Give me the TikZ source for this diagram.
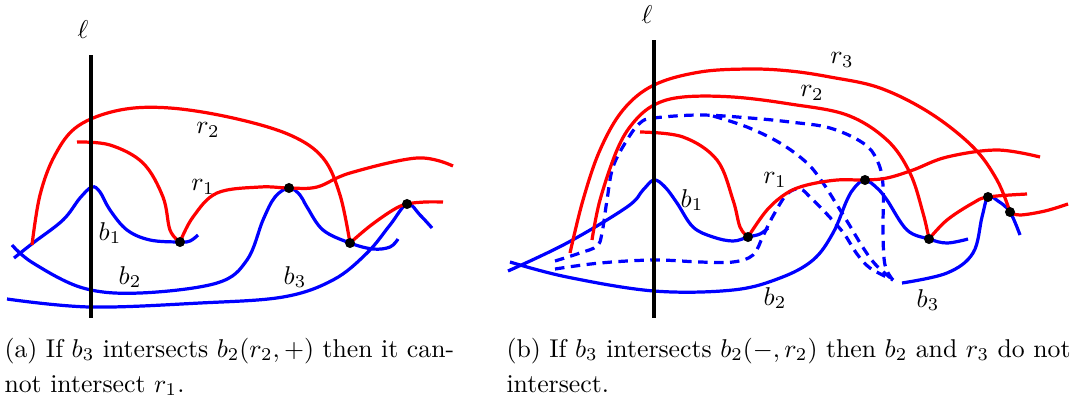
\documentclass[tikz,border=0pt]{standalone}
\usepackage{amsmath,amssymb}
\usepackage{tikz}
\definecolor{Rcurve}{HTML}{FF0000}
\definecolor{Bcurve}{HTML}{0000FF}
\tikzset{
    % curves, all drawn with the same weight
    redcurve/.style={
        draw=Rcurve,
        line width=1.25pt
    },
    bluecurve/.style={
        draw=Bcurve,
        line width=1.25pt
    },
    bluedash/.style={
        draw=Bcurve,
        line width=1.25pt,
        dash pattern=on 3.7pt off 2.5pt
    },
    ellline/.style={
        draw=black,
        line width=1.45pt
    },
    curvelabel/.style={
        inner sep=0pt,
        font=\normalsize
    },
    captext/.style={
        anchor=base west,
        inner sep=0pt,
        font=\normalsize
    }
}

\begin{document}
\begin{tikzpicture}[x=0.01365cm, y=-0.01365cm]
    \useasboundingbox (0,0) rectangle (1070,406);

    % (a) left picture
    \coordinate (la) at (180,242);
    \coordinate (lb) at (289,188);
    \coordinate (lc) at (350,243);
    \coordinate (ld) at (407,204);

    \draw[bluecurve] plot[smooth, tension=0.6] coordinates {(14,258) (33,243) (63,220) (80,198) (92,187) (100,192) (110,210) (127,230) (150,240) (la) (190,241) (198,235)};
    \draw[bluecurve] plot[smooth, tension=0.6] coordinates {(12,245) (33,263) (83,288) (140,293) (217,283) (247,260) (263,220) (275,197) (lb) (300,195) (307,207) (323,230) (lc) (373,249) (390,247) (398,239)};
    \draw[bluecurve] plot[smooth, tension=0.6] coordinates {(7,299) (90,307) (200,303) (283,297) (333,280) (367,253) (390,225) (ld) (420,215) (432,228)};

    \draw[redcurve] plot[smooth, tension=0.6] coordinates {(32,245) (40,195) (55,155) (78,126) (120,110) (170,108) (233,118) (290,135) (323,158) (340,195) (lc)};
    \draw[redcurve] plot[smooth, tension=0.6] coordinates {(77,142) (110,145) (143,163) (163,197) (170,230) (la)};
    \draw[redcurve] plot[smooth, tension=0.6] coordinates {(la) (193,217) (217,193) (260,187) (lb) (317,187) (350,173) (417,158) (453,166)};
    \draw[redcurve] plot[smooth, tension=0.6] coordinates {(lc) (370,226) (393,210) (ld) (425,202) (443,202)};

    \foreach \p in {la,lb,lc,ld}
        \fill (\p) circle[radius=1.95pt];

    \coordinate (lltop) at (91,55);
    \coordinate (llbot) at (91,318);
    \draw[ellline] (lltop) -- (llbot);

    \node[curvelabel] (lell) at (83,30) {$\ell$};
    \node[curvelabel] (lr2) at (208,130) {$r_2$};
    \node[curvelabel] (lr1) at (203,187) {$r_1$};
    \node[curvelabel] (lb1) at (110,233) {$b_1$};
    \node[curvelabel] (lb2) at (130,277) {$b_2$};
    \node[curvelabel] (lb3) at (295,277) {$b_3$};

    % (b) right picture
    \coordinate (ra) at (748,237);
    \coordinate (rb) at (865,180);
    \coordinate (rc) at (929,239);
    \coordinate (rd) at (988,197);
    \coordinate (re) at (1010,212);
    \coordinate (rj) at (893,280);

    \draw[bluedash] plot[smooth, tension=0.6] coordinates {(555,261) (580,253) (597,246) (602,233) (607,200) (613,167) (627,140) (640,123) (654,118) (700,115) (750,118) (790,122) (830,128) (863,143) (877,160) (883,185) (883,233) (885,265) (rj)};
    \draw[bluedash] plot[smooth, tension=0.6] coordinates {(713,116) (747,127) (780,143) (807,163) (823,183) (837,205) (850,226) (862,246) (875,264) (rj)};
    \draw[bluedash] plot[smooth, tension=0.6] coordinates {(555,269) (600,263) (654,260) (700,262) (733,262) (753,255) (763,236) (773,216) (787,194) (800,189) (810,197) (823,210) (835,223) (845,235) (857,254) (870,268) (rj)};

    \draw[bluecurve] plot[smooth, tension=0.6] coordinates {(508,271) (567,243) (627,207) (643,190) (654,180) (665,187) (677,203) (693,227) (713,237) (733,241) (ra) (760,234) (768,228)};
    \draw[bluecurve] plot[smooth, tension=0.6] coordinates {(510,262) (567,277) (654,291) (733,290) (780,278) (813,260) (833,233) (847,200) (855,187) (rb) (877,188) (887,200) (907,230) (rc) (947,243) (968,239)};
    \draw[bluecurve] plot[smooth, tension=0.6] coordinates {(902,283) (947,273) (973,253) (982,217) (rd) (998,201) (re) (1020,235)};

    \draw[redcurve] plot[smooth, tension=0.6] coordinates {(570,253) (583,200) (600,150) (623,110) (654,85) (700,72) (750,69) (790,71) (830,77) (880,88) (930,113) (973,147) (997,180) (re)};
    \draw[redcurve] plot[smooth, tension=0.6] coordinates {(re) (1020,215) (1045,211) (1068,204)};
    \draw[redcurve] plot[smooth, tension=0.6] coordinates {(592,240) (600,200) (617,150) (633,123) (654,105) (683,97) (733,97) (790,104) (847,115) (887,140) (910,173) (923,213) (rc)};
    \draw[redcurve] plot[smooth, tension=0.6] coordinates {(640,132) (683,137) (717,160) (733,200) (740,227) (ra)};
    \draw[redcurve] plot[smooth, tension=0.6] coordinates {(ra) (767,210) (787,193) (807,185) (837,180) (rb) (887,178) (913,170) (947,157) (997,150) (1040,157)};
    \draw[redcurve] plot[smooth, tension=0.6] coordinates {(rc) (947,220) (973,203) (rd) (1027,194)};

    \foreach \p in {ra,rb,rc,rd,re}
        \fill (\p) circle[radius=1.95pt];

    \coordinate (rltop) at (654,40);
    \coordinate (rlbot) at (654,318);
    \draw[ellline] (rltop) -- (rlbot);

    \node[curvelabel] (rell) at (647,15) {$\ell$};
    \node[curvelabel] (rr3) at (842,60) {$r_3$};
    \node[curvelabel] (rr2) at (812,93) {$r_2$};
    \node[curvelabel] (rr1) at (775,180) {$r_1$};
    \node[curvelabel] (rb1) at (692,200) {$b_1$};
    \node[curvelabel] (rb2) at (775,298) {$b_2$};
    \node[curvelabel] (rb3) at (928,300) {$b_3$};

    % captions
    \node[captext] (capa1) at (4,357) {(a) If $b_3$ intersects $b_2(r_2,+)$ then it can-};
    \node[captext] (capa2) at (4,392) {not intersect $r_1$.};
    \node[captext] (capb1) at (506,357) {(b) If $b_3$ intersects $b_2(-,r_2)$ then $b_2$ and $r_3$ do not};
    \node[captext] (capb2) at (506,392) {intersect.};
\end{tikzpicture}
\end{document}
